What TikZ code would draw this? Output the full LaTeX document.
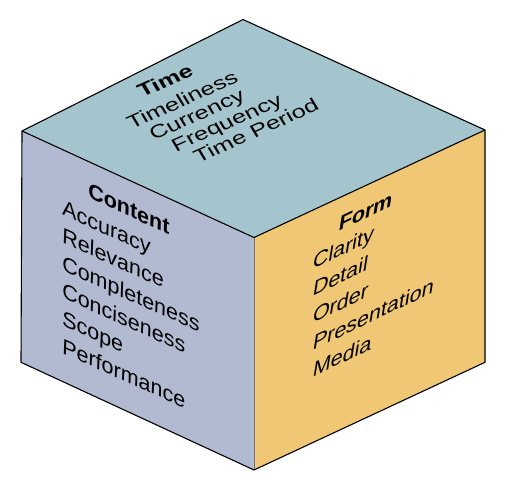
\documentclass[tikz,border=0pt]{standalone}
\usepackage{fontspec}
\setmainfont{Liberation Sans}
\definecolor{topcol}{RGB}{164,196,206}
\definecolor{leftcol}{RGB}{178,186,210}
\definecolor{rightcol}{RGB}{240,199,116}
\newcommand\facelabel[5]{%
  \begin{scope}[shift={#3},#1]\node[lbl,#4] (#2) at (0,0) {#5};\end{scope}}
\begin{document}
\begin{tikzpicture}[x=1pt,y=1pt,
  edge/.style={draw=black,line width=1.1pt,line join=round},
  lbl/.style={anchor=base west,inner sep=0pt,outer sep=0pt,transform shape,
              font=\fontsize{21.5}{24}\selectfont},
  hd/.style={font=\fontsize{21.5}{24}\selectfont\bfseries},
  lface/.style={cm={1,-0.45,0.04,1,(0,0)}},
  rface/.style={cm={1,0.48,0.16,1,(0,0)}},
  tface/.style={cm={1.06,0.47,-0.45,0.75,(0,0)}}]
\useasboundingbox (0,0) rectangle (514,488);
\coordinate (T) at (243,468.5);
\coordinate (L) at (22,357);
\coordinate (R) at (485,358);
\coordinate (F) at (254,250.5);
\coordinate (B) at (254,18);
\coordinate (LB) at (21,125.7);
\coordinate (RB) at (485,125.7);
\fill[topcol] (L) -- (T) -- (R) -- (F) -- cycle;
\fill[leftcol] (L) -- (F) -- (B) -- (LB) -- cycle;
\fill[rightcol] (F) -- (R) -- (RB) -- (B) -- cycle;
\draw[black!55,line width=0.6pt] (F) -- (B);
\draw[edge] (L) -- (F) -- (R);
\draw[edge] (L) -- (T) -- (R) -- (RB) -- (B) -- (LB) -- cycle;
% top face
\facelabel{tface}{time}{(142,390)}{hd}{Time}
\facelabel{tface}{timeliness}{(131.5,358.5)}{}{Timeliness}
\facelabel{tface}{currency}{(153.8,347.2)}{}{Currency}
\facelabel{tface}{frequency}{(176.1,335.9)}{}{Frequency}
\facelabel{tface}{timeperiod}{(198.4,324.6)}{}{Time Period}
% left face
\facelabel{lface}{content}{(88,290)}{hd}{Content}
\facelabel{lface}{accuracy}{(62,273)}{}{Accuracy}
\facelabel{lface}{relevance}{(62,245.4)}{}{Relevance}
\facelabel{lface}{completeness}{(62,217.8)}{}{Completeness}
\facelabel{lface}{conciseness}{(62,190.2)}{}{Conciseness}
\facelabel{lface}{scope}{(62,162.6)}{}{Scope}
\facelabel{lface}{performance}{(62,135)}{}{Performance}
% right face
\facelabel{rface}{form}{(338,256)}{hd}{Form}
\facelabel{rface}{clarity}{(312,218.5)}{}{Clarity}
\facelabel{rface}{detail}{(312,191.5)}{}{Detail}
\facelabel{rface}{order}{(312,164.5)}{}{Order}
\facelabel{rface}{presentation}{(312,137.5)}{}{Presentation}
\facelabel{rface}{media}{(312,110.5)}{}{Media}
\end{tikzpicture}
\end{document}
